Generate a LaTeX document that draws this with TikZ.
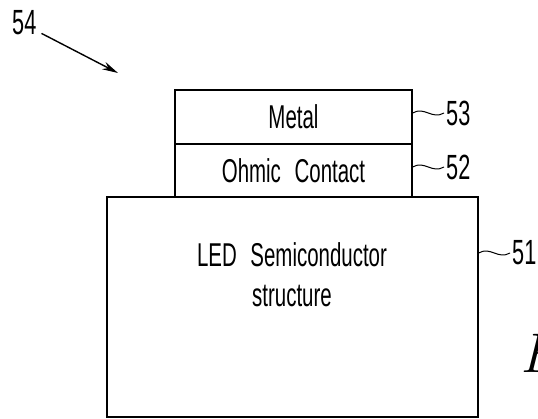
\documentclass[tikz,border=0pt]{standalone}
\usepackage{fontspec}
\usepackage{tikz}
\usetikzlibrary{arrows.meta}
\newfontfamily\cadfont{Liberation Sans}[FakeStretch=0.62,WordSpace=2.4]
\tikzset{layerbox/.style={draw, line width=1.2pt, rectangle, inner sep=0pt, font=\cadfont\fontsize{33pt}{40pt}\selectfont},
  reflabel/.style={inner sep=0pt, anchor=west, font=\cadfont\fontsize{35pt}{35pt}\selectfont},
  leadline/.style={line width=1pt}}

\begin{document}
\begin{tikzpicture}[x=1pt, y=-1pt]%
\useasboundingbox (0,0) rectangle (538,418);%
\node[layerbox, minimum width=371pt, minimum height=220pt] (led) at (292.5,307) {};%
\node[layerbox, draw=none, align=center] (ledtext) at (292,275) {LED Semiconductor\\structure};%
\node[layerbox, minimum width=237pt, minimum height=53pt] (ohmic) at (293.5,170.5) {Ohmic Contact};%
\node[layerbox, minimum width=237pt, minimum height=54pt] (metal) at (293.5,117) {Metal};%
\node[reflabel] (l53) at (446,113) {53};%
\node[reflabel] (l52) at (446,167) {52};%
\node[reflabel] (l51) at (512,253) {51};%
\node[reflabel] (l54) at (12,23) {54};%
\coordinate (tip54) at (118,73);%
\draw[leadline] (l53.west -| metal.east) .. controls +(12,-7) and +(-12,7) .. ([xshift=-2pt]l53.west);%
\draw[leadline] (l52.west -| ohmic.east) .. controls +(12,-7) and +(-12,7) .. ([xshift=-2pt]l52.west);%
\draw[leadline] (l51.west -| led.east) .. controls +(12,-7) and +(-12,7) .. ([xshift=-2pt]l51.west);%
\draw[line width=1.4pt, -{Stealth[length=16pt, width=8pt]}] ([shift={(5,-2)}]l54.south east) -- (tip54);%
\node[inner sep=0pt, anchor=base west, font=\fontsize{56pt}{56pt}\selectfont\itshape] (fig) at (520,372) {F};%
\end{tikzpicture}
\end{document}
